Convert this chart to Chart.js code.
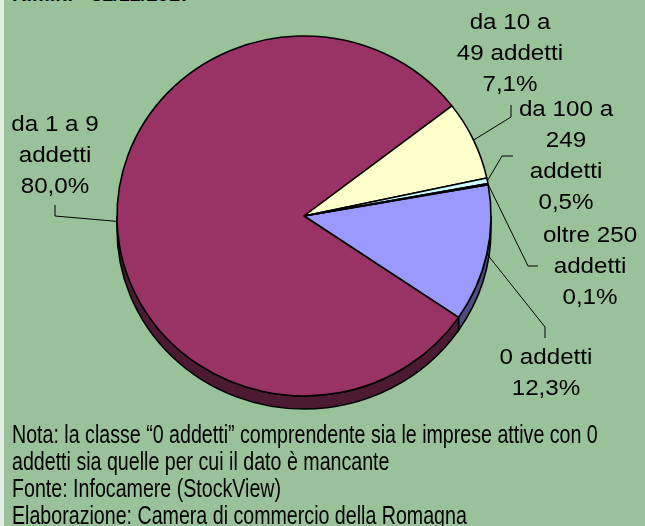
<!DOCTYPE html>
<html>
<head>
<meta charset="utf-8">
<script src="https://cdn.jsdelivr.net/npm/chart.js@4/dist/chart.umd.min.js"></script>
<style>
html, body { margin: 0; padding: 0; }
body { width: 645px; height: 526px; background: #99c29b; position: relative; overflow: hidden;
       font-family: "Liberation Sans", Arial, sans-serif; color: #000; }
#edge { position: absolute; left: 0; top: 0; width: 4px; height: 526px; background: #e3ece2; }
#title { position: absolute; left: 12px; top: -16px; font-weight: bold; font-size: 20px; line-height: 20px; white-space: nowrap; }
#note { position: absolute; left: 12px; top: 421px; font-size: 25px; line-height: 27px; white-space: nowrap;
        transform: scaleX(0.785); transform-origin: 0 0; }
canvas { position: absolute; left: 0; top: 0; }
</style>
</head>
<body>
<div id="edge"></div>
<div id="title">Rimini - 31/12/2017</div>
<canvas id="pieChart" width="645" height="526"></canvas>
<div id="note">Nota: la classe “0 addetti” comprendente sia le imprese attive con 0<br>addetti sia quelle per cui il dato è mancante<br>Fonte: Infocamere (StockView)<br>Elaborazione: Camera di commercio della Romagna</div>
<script>
var categories = ['0 addetti', 'da 1 a 9 addetti', 'da 10 a 49 addetti', 'da 100 a 249 addetti', 'oltre 250 addetti'];
var shares = [12.3, 80.0, 7.1, 0.5, 0.1];
var labelLines = [['0 addetti'], ['da 1 a 9', 'addetti'], ['da 10 a', '49 addetti'], ['da 100 a', '249', 'addetti'], ['oltre 250', 'addetti']];
var topColors = ['#9999ff', '#993366', '#ffffcc', '#ccffff', '#660066'];
var sideColors = ['#4d4d80', '#4d1a33', '#80804d', '#668080', '#330033'];

// where each label sits and how its leader bends
var labelPos = [
    {x: 546, y: 358, knee: [545, 327], end: [545, 338]},
    {x: 55, y: 125, knee: [55, 216], end: [55, 205]},
    {x: 510, y: 23, knee: [511, 117], end: [511, 105]},
    {x: 566, y: 110, knee: [502, 156], end: [513, 156]},
    {x: 590, y: 236, knee: [528, 266], end: [538, 266]}
];

var depth = 13;
var squash = 180 / 187;

function pct(v) {
    return v.toFixed(1).replace('.', ',') + '%';
}

var pie3d = {
    id: 'pie3d',
    beforeDatasetsDraw: function (chart) {
        var ctx = chart.ctx;
        var arcs = chart.getDatasetMeta(0).data;
        var cx = arcs[0].x, cy = arcs[0].y;
        ctx.save();
        ctx.translate(cx, cy);
        ctx.scale(1, squash);
        ctx.translate(-cx, -cy);
        var d = depth / squash;
        arcs.forEach(function (arc, i) {
            var r = arc.outerRadius;
            for (var k = -1; k <= 2; k++) {
                var a0 = Math.max(arc.startAngle, 2 * Math.PI * k);
                var a1 = Math.min(arc.endAngle, 2 * Math.PI * k + Math.PI);
                if (a1 <= a0) continue;
                ctx.beginPath();
                ctx.arc(cx, cy, r, a0, a1);
                ctx.arc(cx, cy + d, r, a1, a0, true);
                ctx.closePath();
                ctx.fillStyle = sideColors[i];
                ctx.fill();
                ctx.lineWidth = 1.6;
                ctx.strokeStyle = '#000';
                ctx.stroke();
            }
        });
    },
    afterDatasetsDraw: function (chart) {
        var ctx = chart.ctx;
        ctx.restore();
        var arcs = chart.getDatasetMeta(0).data;
        ctx.save();
        ctx.strokeStyle = '#000';
        ctx.lineWidth = 1;
        ctx.fillStyle = '#000';
        ctx.font = '22px "Liberation Sans", Arial, sans-serif';
        ctx.textAlign = 'center';
        ctx.textBaseline = 'middle';
        arcs.forEach(function (arc, i) {
            var mid = (arc.startAngle + arc.endAngle) / 2;
            var px = arc.x + arc.outerRadius * Math.cos(mid);
            var py = arc.y + arc.outerRadius * squash * Math.sin(mid);
            var p = labelPos[i];
            ctx.beginPath();
            ctx.moveTo(p.end[0], p.end[1]);
            ctx.lineTo(p.knee[0], p.knee[1]);
            ctx.lineTo(px, py);
            ctx.stroke();
            var lines = labelLines[i].concat([pct(shares[i])]);
            lines.forEach(function (t, j) {
                ctx.save();
                ctx.translate(p.x, p.y + j * 31);
                ctx.scale(1.1, 1);
                ctx.fillText(t, 0, 0);
                ctx.restore();
            });
        });
        ctx.restore();
    }
};

var pieChart = new Chart(document.getElementById('pieChart'), {
    type: 'pie',
    data: {
        labels: categories,
        datasets: [{
            data: shares,
            backgroundColor: topColors,
            borderColor: '#000',
            borderWidth: 1.6,
            clip: false
        }]
    },
    options: {
        responsive: false,
        animation: false,
        devicePixelRatio: 1,
        rotation: 80,
        radius: 187,
        layout: { padding: { left: 110, right: 147, top: 22, bottom: 116 } },
        plugins: {
            legend: { display: false },
            tooltip: { enabled: false }
        }
    },
    plugins: [pie3d]
});
</script>
</body>
</html>
